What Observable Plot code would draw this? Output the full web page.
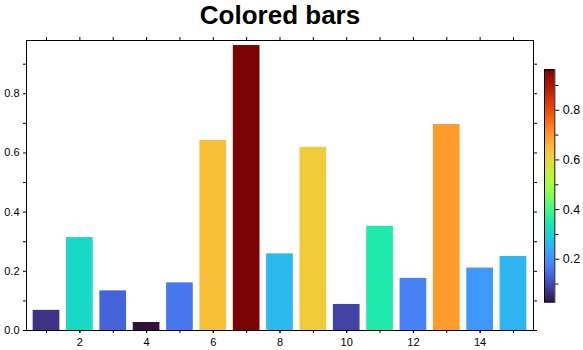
<!DOCTYPE html>
<html><head><meta charset="utf-8">
<script src="https://cdn.jsdelivr.net/npm/d3@7"></script>
<script src="https://cdn.jsdelivr.net/npm/@observablehq/plot@0.6"></script>
<style>
body{margin:0;background:#fff}
#wrap{position:relative;width:583px;height:350px}
#wrap svg{position:absolute;left:0;top:0}
</style>
</head><body><div id="wrap"></div>
<script>
const title = "Colored bars";
const positions = [1, 2, 3, 4, 5, 6, 7, 8, 9, 10, 11, 12, 13, 14, 15];
const values = [0.068, 0.314, 0.134, 0.027, 0.161, 0.642, 0.963, 0.259, 0.619, 0.088, 0.352, 0.176, 0.696, 0.211, 0.250];
const yTicks = [0, 0.2, 0.4, 0.6, 0.8];
const yMinorTicks = [0.1, 0.3, 0.5, 0.7, 0.9];
const rightTicks = [0, 0.1, 0.2, 0.3, 0.4, 0.5, 0.6, 0.7, 0.8, 0.9];
const xTicks = [2, 4, 6, 8, 10, 12, 14];
const colorTicks = [0.2, 0.4, 0.6, 0.8];
const colorMinorTicks = [0.1, 0.3, 0.5, 0.7, 0.9];

// matplotlib "turbo" colormap, sampled every 8 entries of its 256-entry table
const turboIndex = [0, 8, 16, 24, 32, 40, 48, 56, 64, 72, 80, 88, 96, 104, 112, 120, 128, 136, 144, 152, 160, 168, 176, 184, 192, 200, 208, 216, 224, 232, 240, 248, 255];
const turboStops = [
  [0.18995,0.07176,0.23217],[0.22500,0.16354,0.45096],[0.25107,0.25237,0.63374],[0.26816,0.33825,0.78050],
  [0.27628,0.42118,0.89123],[0.27543,0.50115,0.96594],[0.25862,0.57958,0.99876],[0.21382,0.65886,0.97959],
  [0.15844,0.73551,0.92305],[0.11167,0.80569,0.84525],[0.09267,0.86554,0.76230],[0.12014,0.91193,0.68660],
  [0.19659,0.94901,0.59466],[0.30513,0.97697,0.48987],[0.42778,0.99419,0.38575],[0.54658,0.99907,0.29581],
  [0.64362,0.98999,0.23356],[0.72596,0.96470,0.20640],[0.80473,0.92452,0.20459],[0.87530,0.87267,0.21555],
  [0.93301,0.81236,0.22667],[0.97323,0.74682,0.22536],[0.99314,0.67408,0.20348],[0.99593,0.58703,0.16899],
  [0.98360,0.49291,0.12849],[0.95801,0.39958,0.08831],[0.92105,0.31489,0.05475],[0.87422,0.24526,0.03297],
  [0.81608,0.18462,0.01809],[0.74617,0.13098,0.00851],[0.66449,0.08436,0.00424],[0.57103,0.04474,0.00529],
  [0.47960,0.01583,0.01055]
];
function mplTurbo(t) {
  const k = Math.max(0, Math.min(1, t)) * 255;
  let i = 0;
  while (i < turboIndex.length - 2 && k > turboIndex[i + 1]) i++;
  const f = (k - turboIndex[i]) / (turboIndex[i + 1] - turboIndex[i]);
  const a = turboStops[i], b = turboStops[i + 1];
  const c = a.map((v, j) => Math.round(255 * (v + (b[j] - v) * f)));
  return `rgb(${c[0]},${c[1]},${c[2]})`;
}

const data = positions.map((x, i) => ({x, v: values[i]}));
const vmin = d3.min(values), vmax = d3.max(values);
const colorScale = {type: "linear", interpolate: mplTurbo, domain: [vmin, vmax]};
const font = "'Liberation Sans', Arial, Helvetica, sans-serif";
const blank = () => "";

const main = Plot.plot({
  width: 583, height: 350,
  marginLeft: 26, marginRight: 50, marginTop: 40, marginBottom: 20,
  style: {fontFamily: font, fontSize: "11px", background: "transparent", color: "#000"},
  x: {domain: [0.4, 15.6]},
  y: {domain: [0, 0.98]},
  color: colorScale,
  marks: [
    Plot.rectY(data, {x1: d => d.x - 0.4, x2: d => d.x + 0.4, y1: 0, y2: "v", fill: "v"}),
    Plot.frame({stroke: "#000"}),
    Plot.axisY({ticks: yTicks, tickFormat: ".1f", tickSize: 3, tickPadding: 4, label: null}),
    Plot.axisY({ticks: yMinorTicks, tickFormat: blank, tickSize: 3, label: null}),
    Plot.axisY({anchor: "right", ticks: rightTicks, tickFormat: blank, tickSize: 3, label: null}),
    Plot.axisX({ticks: positions, tickFormat: blank, tickSize: 3, label: null}),
    Plot.axisX({ticks: xTicks, tickFormat: d => String(d), tickSize: 3, tickPadding: 5, label: null}),
    Plot.axisX({anchor: "top", ticks: positions, tickFormat: blank, tickSize: 4, label: null}),
    Plot.text([title], {frameAnchor: "top", dy: -17, lineAnchor: "bottom", fontSize: 26, fontWeight: "bold", fill: "#000"})
  ]
});

const steps = 240;
const bands = d3.range(steps).map(i => ({
  a: vmin + (vmax - vmin) * i / steps,
  b: vmin + (vmax - vmin) * (i + 1) / steps
}));

const bar = Plot.plot({
  width: 583, height: 350,
  marginLeft: 544, marginRight: 28.7, marginTop: 69.3, marginBottom: 48.3,
  style: {fontFamily: font, fontSize: "12.5px", background: "transparent", color: "#000"},
  x: {domain: [0, 1], axis: null},
  y: {domain: [vmin, vmax]},
  color: colorScale,
  marks: [
    Plot.rect(bands, {x1: 0, x2: 1, y1: "a", y2: "b", fill: d => (d.a + d.b) / 2, shapeRendering: "crispEdges"}),
    Plot.frame({stroke: "#000"}),
    Plot.axisY({anchor: "right", ticks: colorTicks, tickFormat: ".1f", tickSize: 4, tickPadding: 4, label: null}),
    Plot.axisY({anchor: "right", ticks: colorMinorTicks.filter(t => t >= vmin && t <= vmax), tickFormat: blank, tickSize: 3, label: null})
  ]
});

const wrap = document.getElementById("wrap");
wrap.appendChild(main);
wrap.appendChild(bar);
</script>
</body></html>
